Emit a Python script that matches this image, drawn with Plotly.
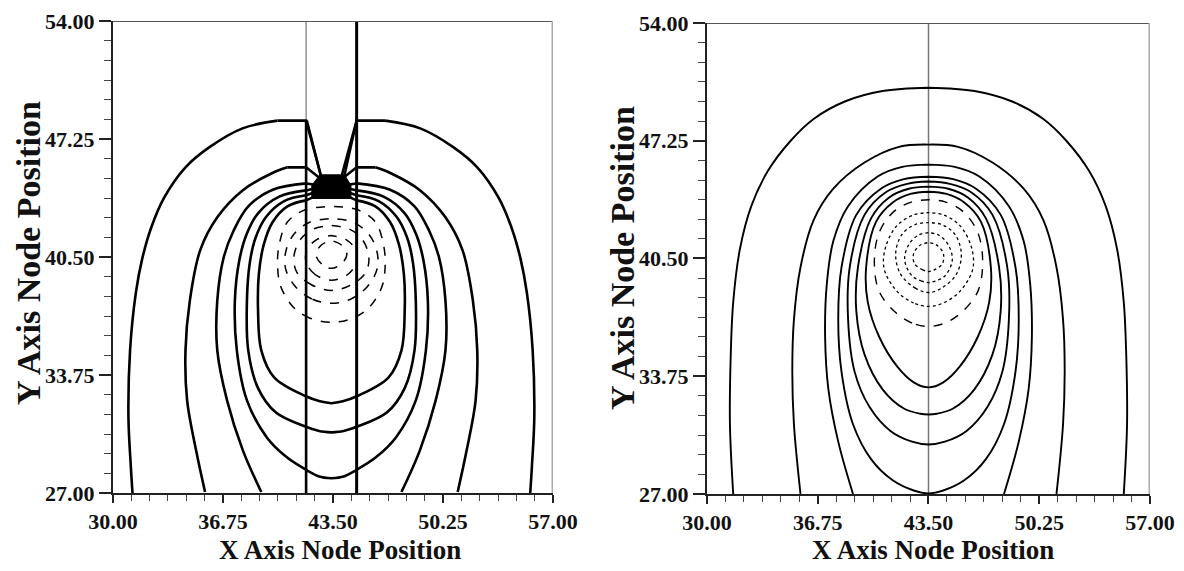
import plotly.graph_objects as go

# ---------------- data ----------------
X_TICKS = [30.0, 36.75, 43.5, 50.25, 57.0]
X_TICK_TEXT = ["30.00", "36.75", "43.50", "50.25", "57.00"]
Y_TICKS = [27.0, 33.75, 40.5, 47.25, 54.0]
Y_TICK_TEXT = ["27.00", "33.75", "40.50", "47.25", "54.00"]

# Left panel: symmetric contours about centre, given as (Y, half-width)
LEFT_CENTRE = 43.4
SLOT_X = [41.85, 44.95]
SLOT_TOP_LEFT_Y = 48.3
V_LEFT_X = [41.9, 42.75]
V_RIGHT_X = [44.95, 44.2]
V_Y = [48.3, 45.15]
BLOB_X = [42.7, 44.2, 44.6, 44.6, 42.2, 42.2, 42.7]
BLOB_Y = [45.2, 45.2, 44.6, 43.85, 43.85, 44.6, 45.2]

# first HEAD points of L1..L6 are straight segments (slot / flat top)
L1_Y = [45.2, 48.3, 48.3, 47.86, 46.77, 45.63, 43.91, 42.19, 40.42, 38.42, 35.16, 31.33, 28.47, 27.0]
L1_W = [0.65, 1.55, 3.3, 5.45, 7.5, 8.95, 10.25, 11.05, 11.6, 12.0, 12.35, 12.45, 12.3, 12.2]
L2_Y = [45.0, 45.63, 45.63, 45.29, 44.31, 42.77, 40.88, 38.02, 35.16, 32.30, 29.44, 27.06]
L2_W = [0.7, 1.55, 2.7, 3.65, 5.45, 7.0, 8.05, 8.68, 8.95, 8.85, 8.3, 7.75]
L3_Y = [44.6, 44.71, 44.35, 43.4, 42.0, 40.5, 38.0, 35.16, 32.30, 29.44, 27.06]
L3_W = [0.7, 1.55, 3.6, 5.1, 6.0, 6.6, 7.0, 7.0, 6.4, 5.43, 4.3]
L4_Y = [44.5, 44.31, 43.95, 43.0, 41.8, 40.3, 38.0, 35.16, 32.30, 30.18, 29.04, 28.30, 27.95, 27.84]
L4_W = [0.7, 1.55, 3.2, 4.5, 5.2, 5.65, 5.92, 5.80, 5.18, 3.96, 2.73, 1.50, 0.75, 0.0]
L5_Y = [44.3, 44.03, 43.7, 42.8, 41.6, 40.2, 38.0, 35.16, 33.0, 31.6, 30.8, 30.55, 30.47]
L5_W = [0.7, 1.55, 2.9, 4.0, 4.65, 5.0, 5.18, 5.1, 4.5, 3.4, 1.6, 0.75, 0.0]
L6_Y = [44.1, 43.74, 43.4, 42.5, 41.2, 39.5, 37.5, 35.16, 33.6, 32.55, 32.25, 32.13]
L6_W = [0.7, 1.55, 2.7, 3.6, 4.15, 4.45, 4.5, 4.3, 3.5, 1.6, 0.7, 0.0]
L_HEADS = [3, 3, 2, 2, 2, 2]
LD1_Y = [43.4, 43.2, 42.5, 41.2, 40.0, 38.8, 37.6, 37.0, 36.76]
LD1_W = [0.0, 1.6, 2.7, 3.2, 3.3, 3.1, 2.3, 1.3, 0.0]
LD2_Y = [42.7, 42.5, 41.8, 40.8, 39.8, 38.8, 38.1, 37.85]
LD2_W = [0.0, 1.3, 2.3, 2.8, 2.8, 2.2, 1.2, 0.0]
LD3_Y = [42.3, 42.1, 41.5, 40.5, 39.6, 38.9, 38.59]
LD3_W = [0.0, 1.1, 1.9, 2.3, 2.1, 1.2, 0.0]
LD4_Y = [41.73, 41.5, 40.9, 40.2, 39.5, 39.17]
LD4_W = [0.0, 0.9, 1.5, 1.55, 1.0, 0.0]
LD5_Y = [41.45, 41.2, 40.65, 40.1, 39.85]
LD5_W = [0.0, 0.6, 0.95, 0.6, 0.0]

# Right panel contours (centre line at 43.5)
RIGHT_CENTRE = 43.5
R1_Y = [50.29, 50.1, 49.5, 48.5, 47.25, 45.5, 43.5, 41.0, 38.0, 35.0, 31.0, 27.0]
R1_W = [0.0, 2.8, 5.1, 7.0, 8.4, 9.8, 10.8, 11.5, 11.9, 12.05, 12.1, 11.9]
R2_Y = [47.03, 46.9, 46.0, 44.5, 42.7, 40.0, 37.0, 34.0, 31.0, 27.0]
R2_W = [0.0, 1.8, 3.9, 5.8, 7.0, 7.8, 8.2, 8.3, 8.2, 7.8]
R3_Y = [45.88, 45.75, 45.2, 43.5, 41.5, 39.0, 36.0, 33.0, 30.0, 27.0]
R3_W = [0.0, 1.6, 3.1, 4.9, 5.8, 6.2, 6.3, 6.1, 5.5, 4.6]
R4_Y = [45.19, 45.05, 44.5, 43.0, 40.0, 37.0, 34.0, 31.0, 29.0, 27.8, 27.2, 27.03]
R4_W = [0.0, 1.5, 2.9, 4.4, 5.3, 5.5, 5.3, 4.6, 3.5, 2.2, 0.9, 0.0]
R5_Y = [44.91, 44.78, 44.3, 43.0, 40.0, 37.0, 34.0, 32.0, 30.6, 30.0, 29.84]
R5_W = [0.0, 1.3, 2.6, 3.9, 4.8, 4.9, 4.5, 3.6, 2.3, 1.0, 0.0]
R6_Y = [44.62, 44.5, 44.0, 42.8, 40.0, 37.5, 35.0, 33.0, 31.9, 31.6, 31.56]
R6_W = [0.0, 1.2, 2.4, 3.5, 4.3, 4.4, 3.9, 2.8, 1.5, 0.5, 0.0]
R7_Y = [44.33, 44.2, 43.7, 42.6, 40.0, 38.0, 36.0, 34.3, 33.4, 33.11]
R7_W = [0.0, 1.1, 2.2, 3.2, 3.8, 3.7, 3.0, 1.9, 0.9, 0.0]
R8_Y = [43.87, 43.75, 43.2, 42.0, 40.3, 38.6, 37.4, 36.8, 36.6]
R8_W = [0.0, 1.0, 2.1, 3.0, 3.3, 3.0, 2.0, 1.0, 0.0]
R9_Y = [43.13, 43.0, 42.4, 41.2, 39.9, 38.6, 37.95, 37.75]
R9_W = [0.0, 0.9, 1.9, 2.6, 2.7, 1.9, 0.9, 0.0]
R10_Y = [42.56, 42.45, 41.9, 40.8, 39.6, 38.8, 38.55]
R10_W = [0.0, 0.8, 1.6, 2.0, 1.7, 0.8, 0.0]
R11_Y = [41.98, 41.85, 41.3, 40.4, 39.5, 39.2, 39.12]
R11_W = [0.0, 0.6, 1.2, 1.45, 1.0, 0.4, 0.0]
R12_Y = [41.41, 41.3, 40.8, 40.2, 39.85, 39.75]
R12_W = [0.0, 0.45, 0.9, 0.85, 0.35, 0.0]

# ---------------- figure ----------------
fig = go.Figure()


def line_trace(xs, ys, axis, width, dash="solid", color="black", shape="linear"):
    fig.add_trace(go.Scatter(
        x=xs, y=ys, mode="lines", xaxis=axis[0], yaxis=axis[1],
        line=dict(color=color, width=width, dash=dash, shape=shape, smoothing=1.0),
        hoverinfo="skip", showlegend=False))


def contour(xc, ys, ws, axis, width, dash="solid", head=0):
    left = [(xc - w, y) for w, y in zip(ws, ys)]
    right = [(xc + w, y) for w, y in zip(ws, ys)]
    if head == 0:
        pts = list(reversed(left)) + right
        line_trace([p[0] for p in pts], [p[1] for p in pts], axis, width, dash, shape="spline")
        return
    for side in (left, right):
        hp = side[:head]
        line_trace([p[0] for p in hp], [p[1] for p in hp], axis, width, dash)
    bl, br = left[head - 1:], right[head - 1:]
    if ws[-1] == 0:
        pts = bl + list(reversed(br))
        line_trace([p[0] for p in pts], [p[1] for p in pts], axis, width, dash, shape="spline")
    else:
        for side in (bl, br):
            line_trace([p[0] for p in side], [p[1] for p in side], axis, width, dash, shape="spline")


A1 = ("x", "y")
A2 = ("x2", "y2")

# left panel: slot walls, V and dense blob
line_trace([SLOT_X[0], SLOT_X[0]], [SLOT_TOP_LEFT_Y, Y_TICKS[-1]], A1, 1.2, color="#777")
line_trace([SLOT_X[0], SLOT_X[0]], [Y_TICKS[0], SLOT_TOP_LEFT_Y], A1, 2.6)
line_trace([SLOT_X[1], SLOT_X[1]], [Y_TICKS[0], Y_TICKS[-1]], A1, 3.0)
line_trace(V_LEFT_X, V_Y, A1, 2.4)
line_trace(V_RIGHT_X, V_Y, A1, 2.4)
fig.add_trace(go.Scatter(x=BLOB_X, y=BLOB_Y, mode="lines", fill="toself", fillcolor="black",
                         line=dict(color="black", width=1), showlegend=False, hoverinfo="skip"))

for (ys, ws), hd in zip([(L1_Y, L1_W), (L2_Y, L2_W), (L3_Y, L3_W), (L4_Y, L4_W), (L5_Y, L5_W), (L6_Y, L6_W)], L_HEADS):
    contour(LEFT_CENTRE, ys, ws, A1, 2.6, head=hd)
for ys, ws in [(LD1_Y, LD1_W), (LD2_Y, LD2_W), (LD3_Y, LD3_W), (LD4_Y, LD4_W), (LD5_Y, LD5_W)]:
    contour(LEFT_CENTRE, ys, ws, A1, 1.5, dash="dash")

# right panel
line_trace([RIGHT_CENTRE, RIGHT_CENTRE], [Y_TICKS[0], Y_TICKS[-1]], A2, 1.5, color="#777")
for ys, ws in [(R1_Y, R1_W), (R2_Y, R2_W), (R3_Y, R3_W), (R4_Y, R4_W), (R5_Y, R5_W), (R6_Y, R6_W), (R7_Y, R7_W)]:
    contour(RIGHT_CENTRE, ys, ws, A2, 1.9)
contour(RIGHT_CENTRE, R8_Y, R8_W, A2, 1.4, dash="dash")
for ys, ws in [(R9_Y, R9_W), (R10_Y, R10_W), (R11_Y, R11_W), (R12_Y, R12_W)]:
    contour(RIGHT_CENTRE, ys, ws, A2, 1.3, dash="dot")

tickfont = dict(family="Liberation Serif", size=22, color="#111", weight="bold")


def xaxis(domain, anchor):
    return dict(domain=domain, anchor=anchor, range=[X_TICKS[0], X_TICKS[-1]],
                tickmode="array", tickvals=X_TICKS, ticktext=X_TICK_TEXT,
                ticks="outside", ticklen=8, tickwidth=1.5, tickcolor="#222",
                minor=dict(dtick=1.125, tick0=30, ticks="outside", ticklen=6, tickwidth=1.2, tickcolor="#444"),
                showline=True, linecolor="#222", linewidth=2, showgrid=False, zeroline=False,
                tickfont=tickfont, automargin=False, fixedrange=True)


def yaxis(domain, anchor):
    return dict(domain=domain, anchor=anchor, range=[Y_TICKS[0], Y_TICKS[-1]],
                tickmode="array", tickvals=Y_TICKS, ticktext=Y_TICK_TEXT,
                ticks="outside", ticklen=12, tickwidth=1.5, tickcolor="#222",
                minor=dict(dtick=1.125, tick0=27, ticks="outside", ticklen=7, tickwidth=1.2, tickcolor="#444"),
                showline=True, linecolor="#222", linewidth=2, showgrid=False, zeroline=False,
                tickfont=tickfont, automargin=False, fixedrange=True)


fig.update_layout(
    width=1184, height=571, margin=dict(l=0, r=0, t=0, b=0),
    paper_bgcolor="white", plot_bgcolor="white", showlegend=False,
    xaxis=xaxis([0.0954, 0.4671], "y"),
    yaxis=yaxis([0.1366, 0.9632], "x"),
    xaxis2=xaxis([0.5971, 0.9713], "y2"),
    yaxis2=yaxis([0.1349, 0.9597], "x2"),
)

# frame: top (dark grey) and right (light grey) edges
for xr, yr in [("x", "y"), ("x2", "y2")]:
    fig.add_shape(type="line", xref=xr, yref=yr, x0=X_TICKS[0], x1=X_TICKS[-1], y0=Y_TICKS[-1], y1=Y_TICKS[-1],
                  line=dict(color="#555", width=2))
    fig.add_shape(type="line", xref=xr, yref=yr, x0=X_TICKS[-1], x1=X_TICKS[-1], y0=Y_TICKS[0], y1=Y_TICKS[-1],
                  line=dict(color="#aaa", width=3))

titlefont_x = dict(family="Liberation Serif", size=27, color="#111", weight="bold")
titlefont_y = dict(family="Liberation Serif", size=34, color="#111", weight="bold")
for xc in [340 / 1184, 933 / 1184]:
    fig.add_annotation(text="X Axis Node Position", x=xc, y=(571 - 550) / 571, xref="paper", yref="paper",
                       showarrow=False, font=titlefont_x, xanchor="center", yanchor="middle")
for xc, yc in [(29 / 1184, (571 - 253) / 571), (622 / 1184, (571 - 258) / 571)]:
    fig.add_annotation(text="Y Axis Node Position", x=xc, y=yc, xref="paper", yref="paper",
                       showarrow=False, font=titlefont_y, textangle=-90, xanchor="center", yanchor="middle")

fig.write_html("out.html")
